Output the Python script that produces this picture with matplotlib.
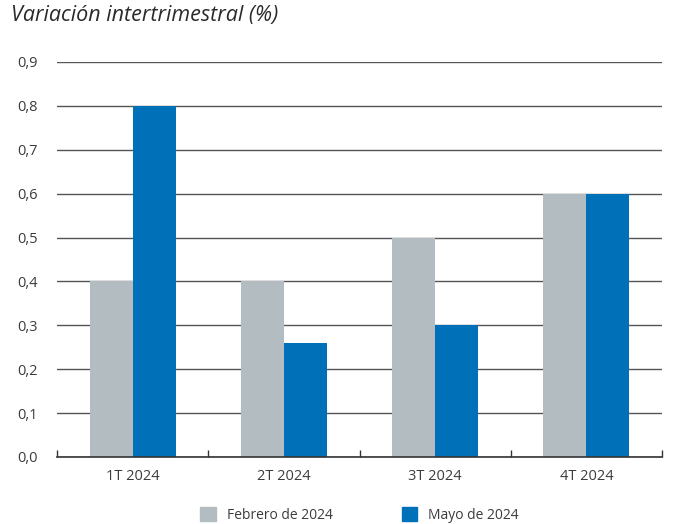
import matplotlib
matplotlib.use("Agg")
import matplotlib.pyplot as plt
from matplotlib.patches import Patch
import numpy as np

categories = ["1T 2024", "2T 2024", "3T 2024", "4T 2024"]
feb_2024 = [0.4, 0.4, 0.5, 0.6]
may_2024 = [0.8, 0.26, 0.3, 0.6]
series_labels = ["Febrero de 2024", "Mayo de 2024"]
y_ticks = [0.0, 0.1, 0.2, 0.3, 0.4, 0.5, 0.6, 0.7, 0.8, 0.9]
title = "Variación intertrimestral (%)"

gray = "#b3bcc0"
blue = "#0070b8"
txt = "#3c3c3c"

plt.rcParams['font.family'] = ['Open Sans', 'DejaVu Sans']

fig = plt.figure(figsize=(6.8, 5.24), dpi=100)
ax = fig.add_axes([57/680, 1 - 457/524, (662-57)/680, (457-62)/524])

x = np.arange(len(categories))
w = 0.285
ax.bar(x - w/2, feb_2024, width=w, color=gray, zorder=3)
ax.bar(x + w/2, may_2024, width=w, color=blue, zorder=3)

ax.set_xlim(-0.5, len(categories) - 0.5)
ax.set_ylim(0, 0.9)
ax.set_yticks(y_ticks)
ax.set_yticklabels([f"{v:.1f}".replace(".", ",") for v in y_ticks], fontsize=10.5, color=txt)
ax.yaxis.grid(True, color="#555555", linewidth=1.0, zorder=0)
ax.tick_params(axis="y", length=0, pad=14)

ax.set_xticks(x)
ax.set_xticklabels(categories, fontsize=10.5, color=txt)
ax.tick_params(axis="x", which="major", length=0, pad=9)
ax.set_xticks(np.arange(-0.5, len(categories)), minor=True)
ax.tick_params(axis="x", which="minor", direction="in", length=5, width=1, color="#333333")

for s in ["top", "right", "left"]:
    ax.spines[s].set_visible(False)
ax.spines["bottom"].set_color("#333333")
ax.spines["bottom"].set_linewidth(1.2)
ax.spines["bottom"].set_zorder(4)

fig.text(11/680, 1 - 16/524, title, fontsize=15.5, style="italic", color="#2a2a2a", va="center", ha="left")

handles = [Patch(color=gray), Patch(color=blue)]
fig.legend(handles, series_labels, loc="center", bbox_to_anchor=(0.529, 1 - 515/524),
           ncol=2, frameon=False, fontsize=10, handlelength=1.1, handleheight=1.1,
           columnspacing=5.0, handletextpad=0.8, labelcolor=txt)

fig.savefig("out.png", dpi=100)
